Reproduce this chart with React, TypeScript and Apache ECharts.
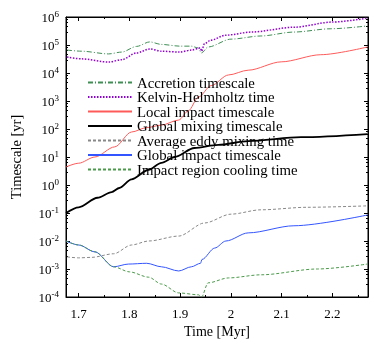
import React, { useEffect, useRef } from "react";
import * as echarts from "echarts";

const seriesNames = [
  "Accretion timescale",
  "Kelvin-Helmholtz time",
  "Local impact timescale",
  "Global mixing timescale",
  "Average eddy mixing time",
  "Global impact timescale",
  "Impact region cooling time",
];

const accretion: [number, number][] = [
  [1.677, 6.6e4], [1.706, 6.0e4], [1.759, 4.8e4], [1.785, 5.6e4], [1.814, 8.9e4],
  [1.84, 1.29e5], [1.863, 1.05e5], [1.899, 9.1e4], [1.922, 9.1e4], [1.935, 7.9e4],
  [1.942, 5.2e4], [1.955, 8.5e4], [2.0, 1.62e5], [2.059, 2.1e5], [2.124, 2.9e5],
  [2.197, 3.8e5], [2.269, 4.8e5],
];

const kelvinHelmholtz: [number, number][] = [
  [1.677, 3.7e4], [1.706, 3.2e4], [1.759, 2.45e4], [1.785, 3.0e4], [1.814, 5.2e4],
  [1.84, 7.2e4], [1.863, 6.0e4], [1.899, 5.6e4], [1.922, 6.6e4], [1.94, 7.9e4],
  [1.942, 6.0e4], [1.948, 1.12e5], [1.96, 1.48e5], [1.99, 2.24e5], [2.04, 2.9e5],
  [2.124, 4.3e5], [2.2, 6.6e5], [2.269, 9.1e5],
];

const localImpact: [number, number][] = [
  [1.675, 4.4], [1.7, 6.0], [1.732, 10], [1.771, 23], [1.804, 78], [1.834, 112],
  [1.863, 138], [1.897, 209], [1.916, 447], [1.936, 1380], [1.961, 3550],
  [1.995, 8500], [2.034, 1.26e4], [2.099, 2.5e4], [2.177, 4.5e4], [2.269, 8.5e4],
];

const globalMixing: [number, number][] = [
  [1.675, 0.1], [1.7, 0.16], [1.737, 0.35], [1.765, 0.56], [1.78, 0.78], [1.804, 1.6],
  [1.838, 3.5], [1.863, 6.2], [1.889, 10], [1.928, 21], [1.975, 27], [2.034, 37],
  [2.138, 51], [2.269, 66],
];

const eddyMixing: [number, number][] = [
  [1.677, 2.7e-3], [1.7, 2.5e-3], [1.725, 2.6e-3], [1.769, 3.5e-3], [1.804, 7.2e-3],
  [1.838, 1.0e-2], [1.897, 1.5e-2], [1.948, 4.4e-2], [2.0, 9.1e-2], [2.059, 0.13],
  [2.15, 0.16], [2.269, 0.18],
];

const globalImpact: [number, number][] = [
  [1.675, 1.0e-2], [1.7, 7.2e-3], [1.732, 4.1e-3], [1.769, 1.2e-3], [1.798, 1.5e-3],
  [1.834, 1.6e-3], [1.863, 1.2e-3], [1.897, 8.5e-4], [1.922, 1.2e-3], [1.94, 1.6e-3],
  [1.943, 2.2e-3], [1.968, 5.6e-3], [1.99, 1.0e-2], [2.034, 1.95e-2], [2.124, 3.5e-2],
  [2.269, 8.5e-2],
];

const coolingTime: [number, number][] = [
  [1.675, 1.0e-2], [1.7, 7.2e-3], [1.732, 4.1e-3], [1.769, 1.2e-3], [1.8, 7.9e-4],
  [1.838, 5.1e-4], [1.863, 2.9e-4], [1.897, 1.4e-4], [1.936, 1.2e-4], [1.942, 1.0e-4],
  [1.955, 3.2e-4], [1.995, 4.8e-4], [2.059, 6.2e-4], [2.17, 1.0e-3], [2.269, 1.5e-3],
];

const allData = [accretion, kelvinHelmholtz, localImpact, globalMixing, eddyMixing, globalImpact, coolingTime];

const styles = [
  { color: "#3f8f55", width: 1, type: [5, 2, 1, 2] },
  { color: "#9400d3", width: 1.5, type: [1.5, 1.5] },
  { color: "#ff5a5a", width: 1, type: "solid" },
  { color: "#000000", width: 1.8, type: "solid" },
  { color: "#888888", width: 1, type: [3, 2] },
  { color: "#3355ff", width: 1, type: "solid" },
  { color: "#4a9a4a", width: 1, type: [3, 2] },
];

const FONT = "Liberation Serif";

export default function App() {
  const ref = useRef<HTMLDivElement>(null);
  useEffect(() => {
    const chart = echarts.init(ref.current!, null, { renderer: "svg" });
    const yFmt = (v: number) => {
      const e = Math.round(Math.log10(v));
      return `10{sup|${e}}`;
    };
    const yRich = {
      sup: { fontSize: 9, fontFamily: FONT, color: "#000", verticalAlign: "bottom", padding: [0, 0, 7, 0] },
    };
    const xBase = {
      type: "value",
      min: 1.675,
      max: 2.27,
      splitNumber: 6,
      axisLine: { show: true, lineStyle: { color: "#000" } },
      axisTick: { show: true, inside: true, length: 4, lineStyle: { color: "#000" } },
      minorTick: { show: true, splitNumber: 2, length: 2, lineStyle: { color: "#000" } },
      splitLine: { show: false },
    };
    const yBase = {
      type: "log",
      logBase: 10,
      min: 1e-4,
      max: 1e6,
      axisLine: { show: true, lineStyle: { color: "#000" } },
      axisTick: { show: true, inside: true, length: 4, lineStyle: { color: "#000" } },
      minorTick: { show: true, splitNumber: 5, length: 2, lineStyle: { color: "#000" } },
      splitLine: { show: false },
    };
    chart.setOption({
      animation: false,
      grid: { left: 64, right: 6, top: 17, bottom: 51, show: true, borderColor: "#000", borderWidth: 1 },
      legend: {
        orient: "vertical",
        left: 82,
        top: 70,
        itemWidth: 44,
        itemHeight: 8,
        itemGap: -0.5,
        data: seriesNames,
        itemStyle: { opacity: 0 },
        textStyle: { fontFamily: FONT, fontSize: 14.8, color: "#000" },
      },
      xAxis: [
        {
          ...xBase,
          position: "bottom",
          name: "Time [Myr]",
          nameLocation: "middle",
          nameGap: 26,
          nameTextStyle: { fontFamily: FONT, fontSize: 14, color: "#000" },
          axisLabel: {
            fontFamily: FONT,
            fontSize: 13,
            color: "#000",
            margin: 10,
            showMinLabel: false,
            showMaxLabel: false,
            formatter: (v: number) => {
              const r = Math.round(v * 10) / 10;
              if (Math.abs(r - v) > 1e-6) return "";
              return String(r);
            },
          },
        },
        { ...xBase, position: "top", axisLabel: { show: false } },
      ],
      yAxis: [
        {
          ...yBase,
          position: "left",
          name: "Timescale [yr]",
          nameLocation: "middle",
          nameGap: 43,
          nameRotate: 90,
          nameTextStyle: { fontFamily: FONT, fontSize: 14.5, color: "#000" },
          axisLabel: { fontFamily: FONT, fontSize: 13, color: "#000", margin: 7, formatter: yFmt, rich: yRich },
        },
        { ...yBase, position: "right", axisLabel: { show: false } },
      ],
      series: seriesNames.map((name, i) => ({
        name,
        type: "line",
        xAxisIndex: 0,
        yAxisIndex: 0,
        data: allData[i],
        showSymbol: false,
        symbol: "none",
        smooth: 0.3,
        smoothMonotone: "x",
        z: i === 3 ? 5 : 2,
        lineStyle: styles[i],
        itemStyle: { color: styles[i].color },
      })),
    });
    return () => chart.dispose();
  }, []);
  return <div ref={ref} style={{ position: "fixed", left: 0, top: 0, width: 374, height: 348 }} />;
}
